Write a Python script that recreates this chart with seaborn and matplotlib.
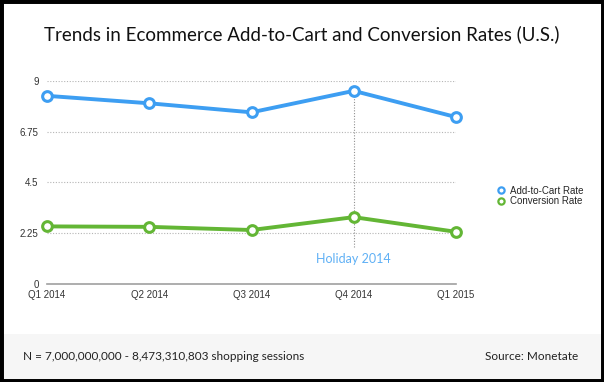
import pandas as pd
import matplotlib
matplotlib.use("Agg")
import matplotlib.pyplot as plt
import seaborn as sns
from matplotlib.lines import Line2D
from matplotlib.patches import Rectangle

# 数据
quarters = ["Q1 2014", "Q2 2014", "Q3 2014", "Q4 2014", "Q1 2015"]
add_to_cart = [8.33, 8.00, 7.60, 8.55, 7.39]
conversion = [2.55, 2.53, 2.39, 2.96, 2.31]
series_names = ["Add-to-Cart Rate", "Conversion Rate"]
colors = ["#3d9ef2", "#63b635"]
y_ticks = [0, 2.25, 4.5, 6.75, 9]
y_tick_labels = ["0", "2.25", "4.5", "6.75", "9"]

df = pd.DataFrame({
    "quarter": quarters * 2,
    "rate": add_to_cart + conversion,
    "metric": [series_names[0]] * 5 + [series_names[1]] * 5,
})

sns.set_style("white")
plt.rcParams['font.family'] = ['Liberation Sans', 'DejaVu Sans']

fig = plt.figure(figsize=(6.04, 3.82), dpi=100)

# 底部灰色区域和黑色边框
fig.patches.append(Rectangle((0, 0), 1, 0.126, transform=fig.transFigure,
                             facecolor="#f6f6f6", edgecolor="none", zorder=0))
fig.patches.append(Rectangle((0, 0), 1, 1, transform=fig.transFigure, fill=False,
                             edgecolor="black", linewidth=5, zorder=10))

ax = fig.add_axes([47 / 604, (382 - 284) / 382, 409 / 604, 203.3 / 382])
ax.set_facecolor("none")

sns.lineplot(data=df, x="quarter", y="rate", hue="metric", palette=colors,
             sort=False, marker="o", markersize=7, markerfacecolor="white",
             markeredgewidth=2.2, linewidth=2.8, legend=False, ax=ax,
             clip_on=False, zorder=3)
# 标记边框颜色与线条一致
for ln in ax.lines:
    ln.set_markeredgecolor(ln.get_color())

ax.set_xlim(0, 4)
ax.set_ylim(0, 9)
ax.set_yticks(y_ticks)
ax.set_yticklabels(y_tick_labels)
for y in y_ticks[1:]:
    ax.axhline(y, color="#b5b5b5", linestyle=(0, (1, 1.5)), linewidth=0.8, zorder=1)
for s in ["top", "right", "left"]:
    ax.spines[s].set_visible(False)
ax.spines["bottom"].set_color("#a0a0a0")
ax.spines["bottom"].set_linewidth(1.2)
ax.tick_params(axis="both", length=0, labelsize=7, colors="#333333")
ax.tick_params(axis="y", pad=6)
ax.tick_params(axis="x", pad=4)
ax.set_xlabel("")
ax.set_ylabel("")

# Holiday 标注
ax.plot([3, 3], [1.62, add_to_cart[3]], color="#909090", linestyle=(0, (1, 1.5)),
        linewidth=0.8, zorder=2)
ax.text(3, 1.1, "Holiday 2014", color="#5fb0f5", fontsize=9, ha="center", va="center",
        family=["Lato", "DejaVu Sans"])

# 图例
handles = [Line2D([], [], linestyle="none", marker="o", markersize=4.5,
                  markerfacecolor="white", markeredgecolor=c, markeredgewidth=1.6)
           for c in colors]
fig.legend(handles, series_names, loc="upper left", bbox_to_anchor=(492 / 604, 1 - 181 / 382),
           frameon=False, fontsize=7, handlelength=0.8, handletextpad=0.5,
           labelspacing=0.05, borderpad=0)

fig.text(0.5, 1 - 34 / 382, "Trends in Ecommerce Add-to-Cart and Conversion Rates (U.S.)",
         ha="center", va="center", fontsize=13.5, color="#111111",
         family=["Lato", "DejaVu Sans"])
fig.text(23 / 604, 1 - 357 / 382, "N = 7,000,000,000 - 8,473,310,803 shopping sessions",
         ha="left", va="center", fontsize=8.5, color="#222222", family=["Lato", "DejaVu Sans"])
fig.text(578 / 604, 1 - 357 / 382, "Source: Monetate",
         ha="right", va="center", fontsize=8.5, color="#222222", family=["Lato", "DejaVu Sans"])

fig.savefig("out.png", dpi=100)
